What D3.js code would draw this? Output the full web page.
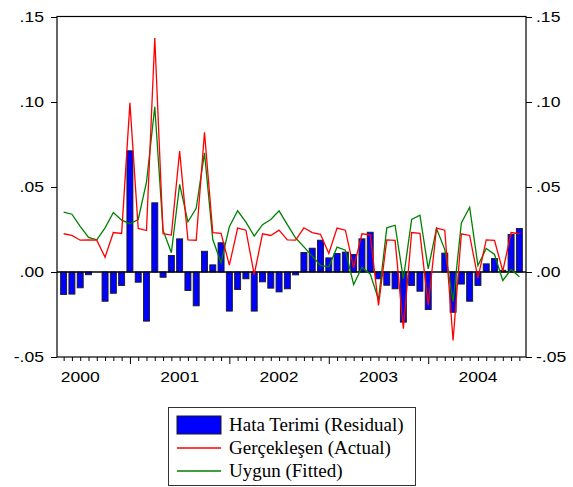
<!DOCTYPE html>
<html><head><meta charset="utf-8">
<script src="https://cdn.jsdelivr.net/npm/d3@7/dist/d3.min.js"></script>
<style>body{margin:0;background:#fff}svg{display:block}</style>
</head><body>
<script>
const months = ["2000M05","2000M06","2000M07","2000M08","2000M09","2000M10","2000M11","2000M12",
"2001M01","2001M02","2001M03","2001M04","2001M05","2001M06","2001M07","2001M08","2001M09","2001M10","2001M11","2001M12",
"2002M01","2002M02","2002M03","2002M04","2002M05","2002M06","2002M07","2002M08","2002M09","2002M10","2002M11","2002M12",
"2003M01","2003M02","2003M03","2003M04","2003M05","2003M06","2003M07","2003M08","2003M09","2003M10","2003M11","2003M12",
"2004M01","2004M02","2004M03","2004M04","2004M05","2004M06","2004M07","2004M08","2004M09","2004M10","2004M11","2004M12"];
const residual = [-0.0132,-0.0130,-0.0093,-0.0016,0.0000,-0.0172,-0.0125,-0.0079,0.0713,-0.0060,-0.0289,0.0407,-0.0031,0.0097,0.0195,-0.0109,-0.0199,0.0122,0.0042,0.0172,
-0.0230,-0.0103,-0.0040,-0.0230,-0.0058,-0.0095,-0.0117,-0.0099,-0.0017,0.0115,0.0140,0.0187,0.0083,0.0109,0.0117,0.0103,0.0195,0.0234,
-0.0040,-0.0078,-0.0099,-0.0295,-0.0079,-0.0113,-0.0221,0.0000,0.0111,-0.0237,-0.0071,-0.0172,-0.0079,0.0048,0.0079,0.0010,0.0221,0.0256];
const actual = [0.0225,0.0215,0.0187,0.0189,0.0187,0.0087,0.0232,0.0227,0.0995,0.0256,0.0244,0.1377,0.0225,0.0217,0.0711,0.0189,0.0187,0.0822,0.0232,0.0227,
0.0040,0.0258,0.0246,-0.0015,0.0225,0.0215,0.0246,0.0189,0.0188,0.0260,0.0232,0.0222,0.0109,0.0258,0.0246,0.0026,0.0225,0.0219,
-0.0197,0.0189,0.0186,-0.0334,0.0232,0.0227,-0.0197,0.0258,0.0246,-0.0403,0.0225,0.0215,-0.0036,0.0189,0.0186,0.0005,0.0232,0.0225];
const fitted = [0.0352,0.0340,0.0269,0.0203,0.0189,0.0260,0.0350,0.0305,0.0284,0.0309,0.0528,0.0972,0.0246,0.0113,0.0515,0.0295,0.0375,0.0701,0.0191,0.0054,
0.0266,0.0360,0.0293,0.0211,0.0278,0.0309,0.0360,0.0279,0.0200,0.0148,0.0093,0.0038,0.0031,0.0146,0.0128,-0.0074,0.0028,-0.0011,
-0.0162,0.0260,0.0275,-0.0040,0.0309,0.0334,0.0019,0.0256,0.0132,-0.0175,0.0289,0.0381,0.0038,0.0138,0.0103,-0.0050,0.0015,-0.0028];
const yTicks = [-0.05, 0.00, 0.05, 0.10, 0.15];
const yTickLabels = ["-.05", ".00", ".05", ".10", ".15"];
const legendLabels = ["Hata Terimi (Residual)", "Gerçekleşen (Actual)", "Uygun (Fitted)"];

const W = 573, H = 487;
const L = 57, R = 526, T = 17, B = 357;
const svg = d3.select("body").append("svg").attr("width", W).attr("height", H);

const idx = months.map((m, i) => i);
const x = d3.scaleLinear().domain([-0.8, months.length - 0.2]).range([L, R]);
const y = d3.scaleLinear().domain([-0.05, 0.15]).range([B, T]);
const axisFont = "'Liberation Sans', Arial, sans-serif";
const stretch = 1.17;

// bars
svg.append("g").selectAll("rect").data(idx).join("rect")
  .attr("x", i => x(i) - 3)
  .attr("width", 6)
  .attr("y", i => y(Math.max(0, residual[i])))
  .attr("height", i => Math.abs(y(residual[i]) - y(0)))
  .attr("fill", "#0000ff")
  .attr("stroke", "#1a1a1a")
  .attr("stroke-width", 0.9);

// zero line
svg.append("line").attr("x1", L).attr("x2", R).attr("y1", y(0)).attr("y2", y(0))
  .attr("stroke", "#000").attr("stroke-width", 1.4);

// lines
const line = arr => d3.line().x(i => x(i)).y(i => y(arr[i]))(idx);
svg.append("path").attr("d", line(fitted)).attr("fill", "none").attr("stroke", "#008000").attr("stroke-width", 1.3);
svg.append("path").attr("d", line(actual)).attr("fill", "none").attr("stroke", "#ff0000").attr("stroke-width", 1.3);

// frame
svg.append("rect").attr("x", L).attr("y", T - 0.5).attr("width", R - L).attr("height", B - T + 0.5)
  .attr("fill", "none").attr("stroke", "#000").attr("stroke-width", 1.2);

// y axes
const yl = svg.append("g").attr("transform", `translate(${L},0)`)
  .call(d3.axisLeft(y).tickValues(yTicks).tickSize(6).tickFormat((d, i) => yTickLabels[i]));
const yr = svg.append("g").attr("transform", `translate(${R},0)`)
  .call(d3.axisRight(y).tickValues(yTicks).tickSize(6).tickFormat((d, i) => yTickLabels[i]));
[yl, yr].forEach(g => {
  g.select(".domain").remove();
  g.selectAll(".tick line").attr("stroke", "#000");
  g.selectAll(".tick text").attr("font-family", axisFont).attr("font-size", 15).attr("fill", "#000");
});
yl.selectAll(".tick text").attr("x", 0).attr("transform", `translate(-13,0) scale(${stretch},1)`);
yr.selectAll(".tick text").attr("x", 0).attr("transform", `translate(10,0) scale(${stretch},1)`);

// x axis: small ticks per month, long ticks at January, labels at July
const xg = svg.append("g").attr("transform", `translate(0,${B})`);
xg.call(d3.axisBottom(x).tickValues(idx).tickSize(4).tickFormat(""));
xg.select(".domain").remove();
xg.selectAll(".tick line").attr("stroke", "#000")
  .attr("y2", i => months[i].endsWith("M01") ? 7 : 4);
const labIdx = idx.filter(i => months[i].endsWith("M07"));
xg.selectAll(".yr").data(labIdx).join("text").attr("class", "yr")
  .attr("transform", i => `translate(${x(i)},25) scale(${stretch},1)`)
  .attr("text-anchor", "middle")
  .attr("font-family", axisFont).attr("font-size", 15).attr("fill", "#000")
  .text(i => months[i].slice(0, 4));

// legend
const lg = svg.append("g");
lg.append("rect").attr("x", 168.5).attr("y", 407.5).attr("width", 247).attr("height", 78)
  .attr("fill", "#fff").attr("stroke", "#333").attr("stroke-width", 1);
const serif = "'Liberation Serif', 'Times New Roman', serif";
lg.append("rect").attr("x", 177).attr("y", 416).attr("width", 44).attr("height", 18)
  .attr("fill", "#0000ff").attr("stroke", "#1a1a1a").attr("stroke-width", 1);
lg.append("line").attr("x1", 177).attr("x2", 221).attr("y1", 448).attr("y2", 448).attr("stroke", "#ff0000").attr("stroke-width", 1.3);
lg.append("line").attr("x1", 177).attr("x2", 221).attr("y1", 471).attr("y2", 471).attr("stroke", "#008000").attr("stroke-width", 1.3);
const rowsY = [431, 454, 477];
lg.selectAll(".lt").data(legendLabels).join("text").attr("class", "lt")
  .attr("x", 229).attr("y", (d, i) => rowsY[i])
  .attr("font-family", serif).attr("font-size", 19).attr("fill", "#000")
  .text(d => d);
</script>
</body></html>
